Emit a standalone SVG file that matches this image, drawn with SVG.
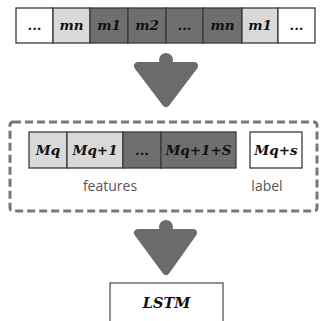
<svg xmlns="http://www.w3.org/2000/svg" width="322" height="321" viewBox="0 0 322 321">
<style>
.c{stroke:#3a3a3a;stroke-width:1.3}
.w{fill:#ffffff}.l{fill:#d9d9d9}.d{fill:#6f6f6f}
.t{font-family:"DejaVu Serif",serif;font-weight:bold;font-style:italic;font-size:13.5px;fill:#111;text-anchor:middle}
.s{font-family:"Open Sans",sans-serif;font-size:14px;fill:#555;text-anchor:middle}
.arr{fill:#6b6b6b;stroke:#6b6b6b;stroke-width:8;stroke-linejoin:round}
</style>
<rect width="322" height="321" fill="#fff"/>
<g id="sequence">
<rect class="c w" x="16" y="8" width="37" height="35"/>
<rect class="c l" x="53" y="8" width="37" height="35"/>
<rect class="c d" x="90" y="8" width="38" height="35"/>
<rect class="c d" x="128" y="8" width="38" height="35"/>
<rect class="c d" x="166" y="8" width="37" height="35"/>
<rect class="c d" x="203" y="8" width="39" height="35"/>
<rect class="c l" x="242" y="8" width="36" height="35"/>
<rect class="c w" x="278" y="8" width="37" height="35"/>
<text class="t" x="34.5" y="30">...</text>
<text class="t" x="71.5" y="30">mn</text>
<text class="t" x="109" y="30">m1</text>
<text class="t" x="147" y="30">m2</text>
<text class="t" x="184.5" y="30">...</text>
<text class="t" x="222.5" y="30">mn</text>
<text class="t" x="260" y="30">m1</text>
<text class="t" x="296.5" y="30">...</text>
</g>
<g id="connectors">
<g id="arrow1">
<circle cx="166" cy="60" r="7" fill="#6b6b6b"/>
<polygon class="arr" points="138,66 194,66 166,103"/>
</g>
<g id="arrow2">
<circle cx="166" cy="227" r="7" fill="#6b6b6b"/>
<polygon class="arr" points="138,233 193,233 166,271"/>
</g>
</g>
<g id="window">
<rect x="10" y="122" width="307" height="89" rx="3" fill="none" stroke="#777" stroke-width="3" stroke-dasharray="8,4"/>
<rect class="c l" x="29" y="132" width="38" height="36"/>
<rect class="c l" x="67" y="132" width="56" height="36"/>
<rect class="c d" x="123" y="132" width="38" height="36"/>
<rect class="c d" x="161" y="132" width="75" height="36"/>
<rect class="c w" x="250" y="132" width="52" height="36"/>
<text class="t" x="48" y="155">Mq</text>
<text class="t" x="95" y="155">Mq+1</text>
<text class="t" x="142" y="155">...</text>
<text class="t" x="198.5" y="155">Mq+1+S</text>
<text class="t" x="276" y="155">Mq+s</text>
<text class="s" x="110" y="191">features</text>
<text class="s" x="267" y="191">label</text>
</g>
<g id="lstm">
<rect x="110" y="283" width="113" height="45" fill="#fff" stroke="#555" stroke-width="1.3"/>
<text class="t" x="166.5" y="308" style="font-size:14.5px">LSTM</text>
</g>
</svg>
